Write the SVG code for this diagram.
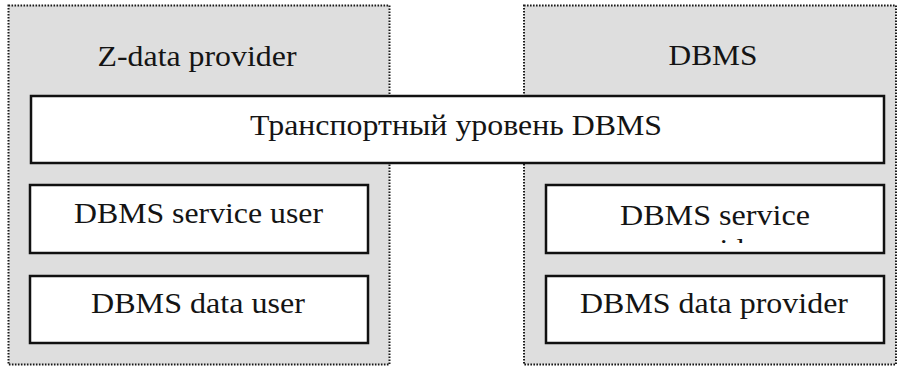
<svg xmlns="http://www.w3.org/2000/svg" width="905" height="367" viewBox="0 0 905 367">
  <defs>
    <style>
      .outer { fill: #dedede; stroke: #1a1a1a; stroke-width: 2; stroke-dasharray: 1.6 1.4; }
      .box { fill: #ffffff; stroke: #111111; stroke-width: 2.5; }
      text { font-family: 'Liberation Serif', 'Times New Roman', Times, serif; font-size: 29px; fill: #141414; text-anchor: middle; }
    </style>
    <!-- second line of the service provider label is cut off by the box -->
    <clipPath id="svcClip">
      <rect x="546" y="185" width="338" height="58"/>
    </clipPath>
  </defs>

  <g id="z-data-provider">
    <rect class="outer" x="8.5" y="5.5" width="381" height="359"/>
    <text x="197" y="66" textLength="199" lengthAdjust="spacingAndGlyphs">Z-data provider</text>
  </g>

  <g id="dbms">
    <rect class="outer" x="524" y="5.5" width="372" height="359"/>
    <text x="713" y="65" textLength="89" lengthAdjust="spacingAndGlyphs">DBMS</text>
  </g>

  <g id="transport-layer">
    <rect class="box" x="31" y="96" width="853" height="67"/>
    <text x="456" y="135" textLength="412" lengthAdjust="spacingAndGlyphs">Транспортный уровень DBMS</text>
  </g>

  <g id="service-user">
    <rect class="box" x="30" y="185" width="338" height="68"/>
    <text x="198.5" y="223" textLength="249" lengthAdjust="spacingAndGlyphs">DBMS service user</text>
  </g>

  <g id="data-user">
    <rect class="box" x="30" y="276" width="338" height="67"/>
    <text x="198" y="313" textLength="214" lengthAdjust="spacingAndGlyphs">DBMS data user</text>
  </g>

  <g id="service-provider">
    <rect class="box" x="546" y="185" width="338" height="68"/>
    <text x="715" y="225" textLength="190" lengthAdjust="spacingAndGlyphs">DBMS service</text>
    <text x="715" y="259" textLength="108" lengthAdjust="spacingAndGlyphs" clip-path="url(#svcClip)">provider</text>
  </g>

  <g id="data-provider">
    <rect class="box" x="546" y="276" width="338" height="67"/>
    <text x="714" y="313" textLength="268" lengthAdjust="spacingAndGlyphs">DBMS data provider</text>
  </g>

  <g id="connectors"></g>
</svg>
